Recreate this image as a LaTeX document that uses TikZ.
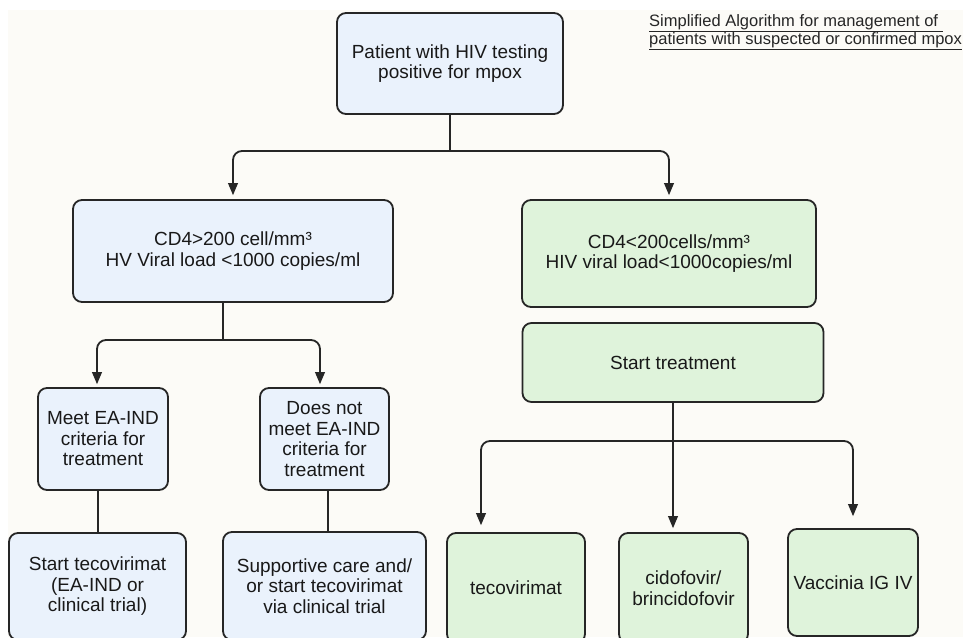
\documentclass[tikz,border=0pt]{standalone}
\usepackage{fontspec}
\setmainfont{Liberation Sans}
\usepackage{tikz}
\usetikzlibrary{arrows}

\definecolor{bgcream}{HTML}{FCFBF7}
\definecolor{boxblue}{HTML}{EAF2FC}
\definecolor{boxgreen}{HTML}{DFF3DB}
\definecolor{boxline}{HTML}{262626}

\newcommand{\boxfont}{\fontsize{19pt}{20.5pt}\selectfont}
\newcommand{\titlefont}{\fontsize{16.5pt}{18pt}\selectfont}

\tikzset{
    bluebox/.style={draw=boxline, fill=boxblue, line width=1.8pt, rounded corners=9pt,
        align=center, font=\boxfont, inner sep=0pt, text=black!90},
    greenbox/.style={bluebox, fill=boxgreen},
    link/.style={draw=boxline, line width=1.8pt, rounded corners=9pt},
}

\begin{document}
\begin{tikzpicture}[line cap=round,line join=round,>=triangle 45,x=1pt,y=-1pt]
    \clip (0,0) rectangle (963,637);
    \fill [bgcream] (8,10) rectangle (963,637);

    \node [anchor=north west, inner sep=0pt, align=left, font=\titlefont, text=black!85] (title) at (649,14)
        {\underline{Simplified Algorithm for management of\ }\\\underline{patients with suspected or confirmed mpox}};

    \node [bluebox, minimum width=226pt, minimum height=101pt] (patient) at (450,63.5) {Patient with HIV testing\\positive for mpox};
    \node [bluebox, minimum width=320pt, minimum height=102pt] (cdhigh) at (233,251) {CD4>200 cell/mm³\\HV Viral load <1000 copies/ml};
    \node [greenbox, minimum width=294pt, minimum height=107pt] (cdlow) at (669,253.5) {CD4<200cells/mm³\\HIV viral load<1000copies/ml};
    \node [greenbox, minimum width=301pt, minimum height=79pt] (start) at (673,362.5) {Start treatment};

    \node [bluebox, minimum width=130pt, minimum height=102pt] (meet) at (103,439) {Meet EA-IND\\criteria for\\treatment};
    \node [bluebox, minimum width=129pt, minimum height=102pt] (notmeet) at (324.5,439) {Does not\\meet EA-IND\\criteria for\\treatment};
    \node [bluebox, minimum width=177pt, minimum height=107pt] (tecoea) at (97.5,586.5) {Start tecovirimat\\(EA-IND or\\clinical trial)};
    \node [bluebox, minimum width=203pt, minimum height=108pt] (support) at (324.5,586) {Supportive care and/\\or start tecovirimat\\via clinical trial};

    \node [greenbox, minimum width=138pt, minimum height=110pt] (teco) at (516,588) {tecovirimat};
    \node [greenbox, minimum width=129pt, minimum height=110pt] (cido) at (683.5,588) {cidofovir/\\brincidofovir};
    \node [greenbox, minimum width=130pt, minimum height=107pt] (vacc) at (853,582.5) {Vaccinia IG IV};

    \coordinate (split1) at (450,151);
    \draw [link] (patient.south) -- (split1);
    \draw [link,->,shorten >=4pt] (split1) -| (cdhigh.north);
    \draw [link,->,shorten >=4pt] (split1) -| (cdlow.north);

    \coordinate (split2) at (223,340);
    \draw [link] (cdhigh.south -| split2) -- (split2);
    \draw [link,->,shorten >=3pt] (split2) -| ([xshift=-6pt]meet.north);
    \draw [link,->,shorten >=3pt] (split2) -| ([xshift=-4.5pt]notmeet.north);
    \draw [link] ([xshift=0.5pt]tecoea.north |- meet.south) -- ([xshift=0.5pt]tecoea.north);
    \draw [link] ([xshift=3.5pt]support.north |- notmeet.south) -- ([xshift=3.5pt]support.north);

    \coordinate (split3) at (673,441);
    \draw [link,->,shorten >=4pt] (start.south) -- (start.south |- cido.north);
    \draw [link,->,shorten >=7pt] (split3) -| ([xshift=-35pt]teco.north);
    \draw [link,->,shorten >=12pt] (split3) -| (vacc.north);

\end{tikzpicture}
\end{document}
